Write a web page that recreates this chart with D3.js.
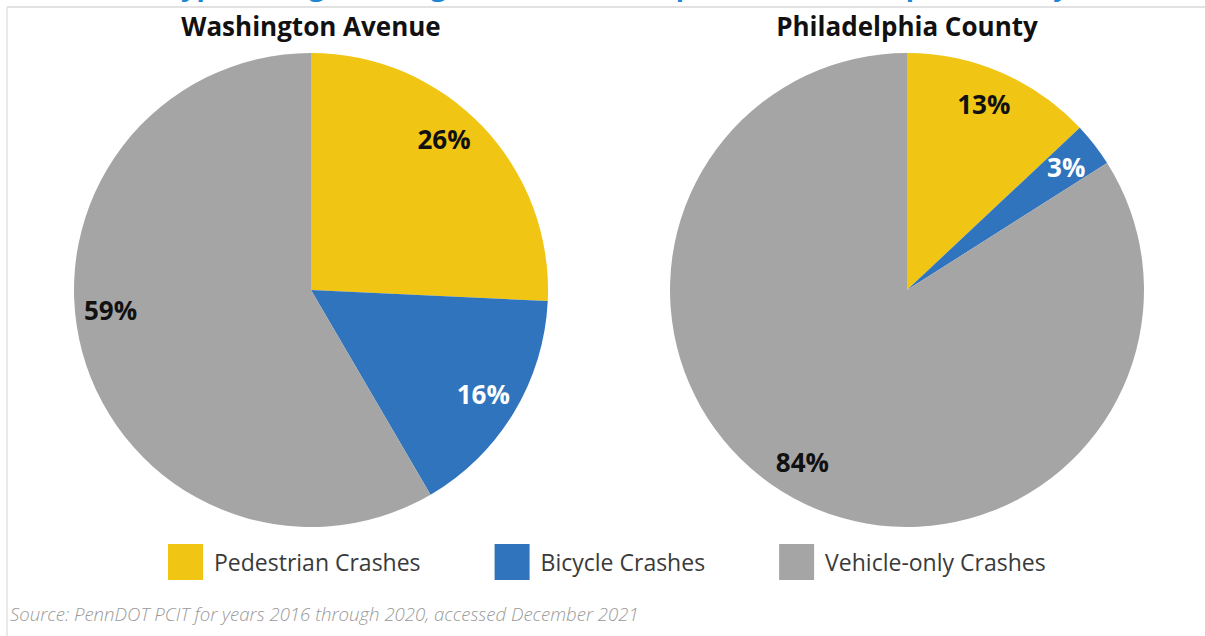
<!DOCTYPE html>
<html lang="en">
<head>
    <meta charset="UTF-8">
    <title>Crash types</title>
    <script src="https://d3js.org/d3.v7.min.js"></script>
    <style>
        body { margin: 0; background: white; }
        svg { display: block; }
        text { font-family: 'Open Sans', sans-serif; }
        .title { font-size: 26px; font-weight: 700; text-anchor: middle; fill: #111; }
        .pct { font-size: 26px; font-weight: 700; text-anchor: middle; dominant-baseline: central; }
        .legend { font-size: 23px; fill: #3a3a3a; }
        .source { font-size: 18.6px; font-style: italic; font-weight: 300; fill: #9a9a9a; }
    </style>
</head>
<body>
<script>

    const width = 1205;
    const height = 636;

    const categories = ['Pedestrian Crashes', 'Bicycle Crashes', 'Vehicle-only Crashes'];
    const colors = ['#f0c514', '#2f74bd', '#a5a5a5'];
    const labelFill = ['#111', '#fff', '#111'];

    const chartTitles = ['Washington Avenue', 'Philadelphia County'];
    const washington = [26, 16, 59];
    const philadelphia = [13, 3, 84];
    // small angle nudges (deg) so labels sit where the original placed them
    const nudges = [[-5, 0, 9.5], [-1, 0, 2.5]];

    const radius = 237;
    const centres = [311, 907];
    const cy = 290;

    const svg = d3.select("body").append("svg").attr("width", width).attr("height", height);

    // frame
    svg.append("line").attr("x1", 7).attr("x2", width).attr("y1", 7).attr("y2", 7)
            .attr("stroke", "#e2e2e2").attr("stroke-width", 2);
    svg.append("line").attr("x1", 7).attr("x2", 7).attr("y1", 7).attr("y2", height)
            .attr("stroke", "#e2e2e2").attr("stroke-width", 1.5);

    // main title, mostly cropped off the top like in the original image
    svg.append("text")
            .attr("x", 575).attr("y", -4)
            .attr("text-anchor", "middle")
            .style("font-size", "27px").style("font-weight", 700).style("fill", "#1e86d6")
            .text("Crash Types along Washington Avenue, Compared to Philadelphia County");

    const pie = d3.pie().sort(null).value(d => d);
    const arc = d3.arc().innerRadius(0).outerRadius(radius);

    [washington, philadelphia].forEach((values, i) => {
        const g = svg.append("g").attr("transform", `translate(${centres[i]},${cy})`);
        const arcs = pie(values);

        g.selectAll("path")
                .data(arcs)
                .enter().append("path")
                .attr("d", arc)
                .style("fill", (d, j) => colors[j]);

        g.selectAll("text.pct")
                .data(arcs)
                .enter().append("text").attr("class", "pct")
                .attr("transform", (d, j) => {
                    const a = (d.startAngle + d.endAngle) / 2 + nudges[i][j] * Math.PI / 180;
                    const r = radius * 0.85;
                    return `translate(${r * Math.sin(a)},${-r * Math.cos(a)})`;
                })
                .style("fill", (d, j) => labelFill[j])
                .text(d => d.value + '%');

        svg.append("text").attr("class", "title")
                .attr("x", centres[i]).attr("y", 36)
                .text(chartTitles[i]);
    });

    // legend
    const legend = svg.append("g").attr("transform", "translate(168,544)");
    let x = 0;
    categories.forEach((c, i) => {
        const item = legend.append("g").attr("transform", `translate(${x},0)`);
        item.append("rect").attr("width", 35).attr("height", 36).style("fill", colors[i]);
        const t = item.append("text").attr("class", "legend").attr("x", 46).attr("y", 27).text(c);
        x += 46 + t.node().getComputedTextLength() + 74;
    });

    svg.append("text").attr("class", "source")
            .attr("x", 10).attr("y", 621)
            .text("Source: PennDOT PCIT for years 2016 through 2020, accessed December 2021");

</script>
</body>
</html>
